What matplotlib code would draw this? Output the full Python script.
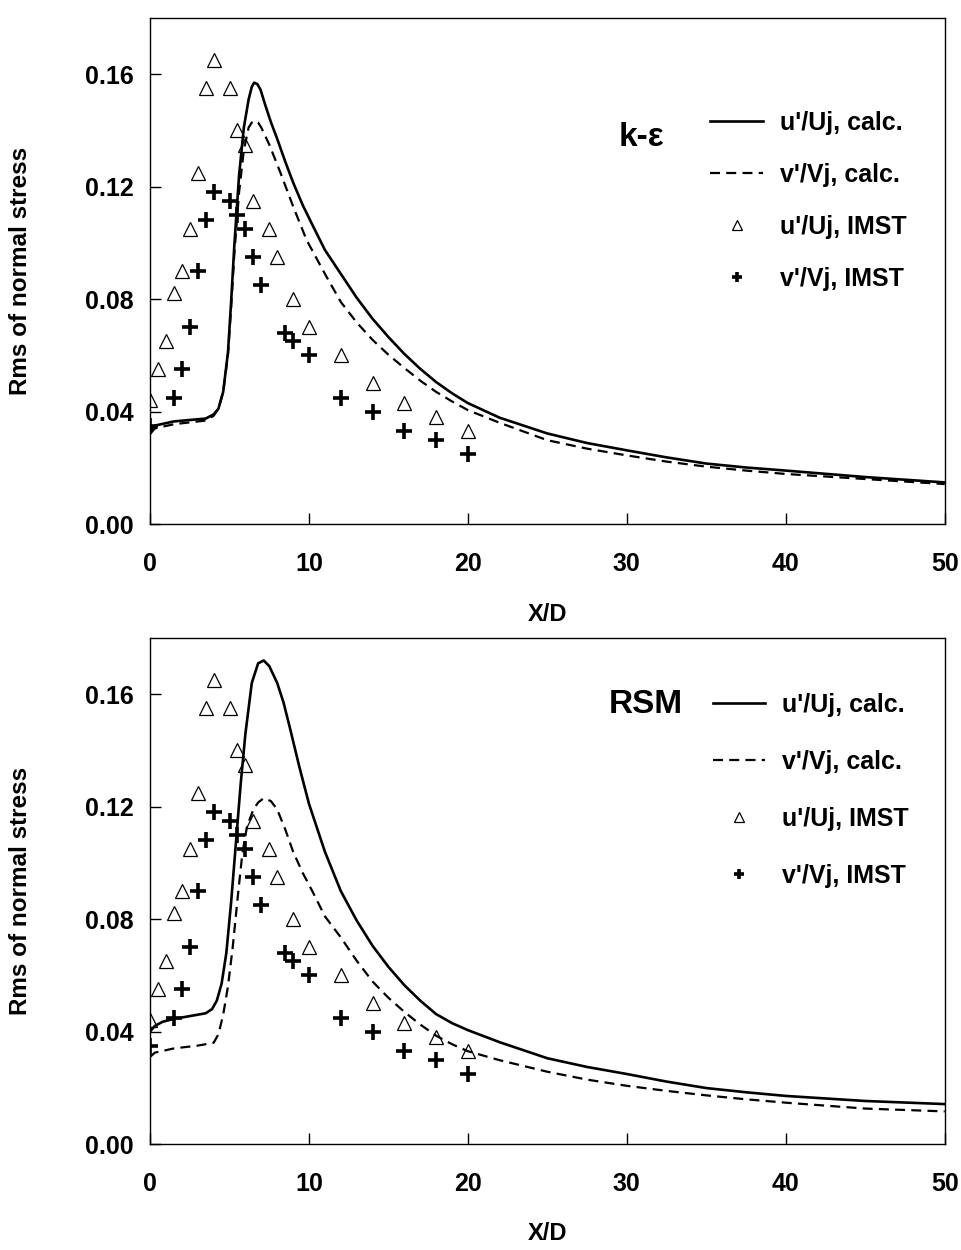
import numpy as np
import matplotlib
matplotlib.use('Agg')
import matplotlib.pyplot as plt
from matplotlib.ticker import FormatStrFormatter

plt.rcParams['font.family'] = ['Liberation Sans', 'DejaVu Sans']
plt.rcParams['font.weight'] = 'bold'

# IMST measurements (same data in both panels)
x_u_meas = [0, 0.5, 1, 1.5, 2, 2.5, 3, 3.5, 4, 5, 5.5, 6, 6.5, 7.5, 8, 9, 10, 12, 14, 16, 18, 20]
u_meas = [0.044, 0.055, 0.065, 0.082, 0.090, 0.105, 0.125, 0.155, 0.165, 0.155, 0.140, 0.135,
          0.115, 0.105, 0.095, 0.080, 0.070, 0.060, 0.050, 0.043, 0.038, 0.033]
x_v_meas = [0, 1.5, 2, 2.5, 3, 3.5, 4, 5, 5.5, 6, 6.5, 7, 8.5, 9, 10, 12, 14, 16, 18, 20]
v_meas = [0.035, 0.045, 0.055, 0.070, 0.090, 0.108, 0.118, 0.115, 0.110, 0.105, 0.095, 0.085,
          0.068, 0.065, 0.060, 0.045, 0.040, 0.033, 0.030, 0.025]

# k-epsilon predictions
x_ke_u = [0, 0.3, 1.5, 3.5, 4.0, 4.3, 4.6, 4.9, 5.1, 5.3, 5.6, 5.9, 6.2, 6.4, 6.55, 6.75,
          6.95, 7.25, 7.6, 8, 8.5, 9, 9.6, 10.25, 11, 12, 13, 14, 15, 16, 17, 18, 19, 20,
          22, 25, 27.5, 30, 32.5, 35, 37.5, 40, 45, 50]
ke_u = [0.033, 0.035, 0.0365, 0.0375, 0.039, 0.041, 0.047, 0.061, 0.079, 0.099, 0.124, 0.141,
        0.151, 0.1555, 0.157, 0.1565, 0.1545, 0.149, 0.143, 0.137, 0.129, 0.1215, 0.1135, 0.106,
        0.0975, 0.089, 0.0805, 0.073, 0.0665, 0.0605, 0.0552, 0.0505, 0.0465, 0.0430,
        0.0378, 0.0322, 0.0288, 0.0262, 0.0237, 0.0215, 0.0201, 0.0190, 0.0167, 0.0148]
x_ke_v = [0, 0.3, 1.5, 3.5, 4.0, 4.3, 4.6, 4.9, 5.1, 5.3, 5.6, 5.9, 6.2, 6.4, 6.6, 6.8, 7.0,
          7.5, 8.2, 9, 9.85, 11, 12, 13, 14, 15, 16, 17, 18, 19, 20, 22, 25, 27.5, 30, 32.5,
          35, 37.5, 40, 45, 50]
ke_v = [0.032, 0.034, 0.0355, 0.0368, 0.0385, 0.041, 0.047, 0.060, 0.077, 0.096, 0.118, 0.133,
        0.141, 0.1428, 0.1435, 0.1428, 0.141, 0.135, 0.125, 0.113, 0.101, 0.089, 0.079,
        0.0717, 0.0655, 0.0602, 0.0555, 0.0510, 0.047, 0.0436, 0.0405, 0.036, 0.0298, 0.0268,
        0.0244, 0.0222, 0.0204, 0.0190, 0.0178, 0.0160, 0.0142]

# Reynolds stress model predictions
x_rsm_u = [0, 0.3, 0.8, 1.5, 2.5, 3.5, 3.9, 4.2, 4.5, 4.8, 5.1, 5.4, 5.7, 6.0, 6.4, 6.8, 7.15,
           7.5, 8.0, 8.4, 8.8, 9.4, 10, 11, 12, 13, 14, 15, 16, 17, 18, 19, 20, 22, 25, 27.5,
           30, 32.5, 35, 37.5, 40, 45, 50]
rsm_u = [0.040, 0.042, 0.0435, 0.0445, 0.0455, 0.0465, 0.048, 0.051, 0.057, 0.068, 0.086, 0.107,
         0.128, 0.146, 0.164, 0.171, 0.172, 0.170, 0.164, 0.157, 0.148, 0.134, 0.121, 0.104,
         0.090, 0.0795, 0.0705, 0.063, 0.0565, 0.051, 0.0462, 0.0430, 0.0405, 0.0362, 0.0305,
         0.0274, 0.0249, 0.0222, 0.0199, 0.0184, 0.0171, 0.0153, 0.0142]
x_rsm_v = [0, 0.3, 1.5, 3.0, 4.0, 4.3, 4.6, 4.9, 5.2, 5.5, 5.8, 6.1, 6.5, 6.8, 7.15, 7.6, 8.0,
           8.5, 9.0, 9.6, 10.25, 11, 12, 13, 14, 15, 16, 17, 18, 19, 20, 22, 25, 27.5, 30,
           32.5, 35, 37.5, 40, 45, 50]
rsm_v = [0.031, 0.0325, 0.034, 0.035, 0.036, 0.039, 0.046, 0.056, 0.070, 0.087, 0.103, 0.113,
         0.119, 0.1215, 0.123, 0.122, 0.119, 0.112, 0.104, 0.0965, 0.0895, 0.081, 0.0735,
         0.0652, 0.0578, 0.052, 0.047, 0.0425, 0.0385, 0.0355, 0.0330, 0.0298, 0.0257, 0.0229,
         0.0207, 0.0189, 0.0173, 0.0159, 0.0147, 0.0126, 0.0116]

fig = plt.figure(figsize=(9.62, 12.5), dpi=100)
ax1 = fig.add_axes([0.156, 0.5808, 0.826, 0.4048])
ax2 = fig.add_axes([0.156, 0.0848, 0.826, 0.4048])


def draw(ax, xu, u, xv, v, model, model_pos, leg_anchor, leg_spacing, xlab_y):
    ax.plot(xu, u, color='k', lw=1.9, label="u'/Uj, calc.")
    ax.plot(xv, v, color='k', lw=1.6, ls=(0, (4.5, 2.8)), label="v'/Vj, calc.")
    ax.plot(x_u_meas, u_meas, ls='none', marker='^', ms=10, mfc='none', mec='k', mew=0.9,
            label="u'/Uj, IMST")
    ax.plot(x_v_meas, v_meas, ls='none', marker='+', ms=11, mec='k', mew=2.6,
            label="v'/Vj, IMST")

    ax.set_xlim(0, 50)
    ax.set_ylim(0, 0.18)
    ax.set_xticks([0, 10, 20, 30, 40, 50])
    ax.set_yticks([0.0, 0.04, 0.08, 0.12, 0.16])
    ax.yaxis.set_major_formatter(FormatStrFormatter('%.2f'))
    ax.tick_params(direction='in', length=8, width=1, labelsize=18, top=False, right=False)
    ax.tick_params(axis='x', pad=20)
    ax.tick_params(axis='y', pad=12)
    for sp in ax.spines.values():
        sp.set_linewidth(1.0)

    ax.set_xlabel('X/D', fontsize=17, fontweight='bold')
    ax.xaxis.set_label_coords(0.5, xlab_y)
    ax.set_ylabel('Rms of normal stress', fontsize=17.5, fontweight='bold')
    ax.yaxis.set_label_coords(-0.148, 0.5)

    ax.text(model_pos[0], model_pos[1], model, transform=ax.transAxes, fontsize=24,
            fontweight='bold', ha='center', va='center')
    ax.legend(loc='upper left', bbox_to_anchor=leg_anchor, frameon=False, fontsize=18,
              handlelength=2.1, handletextpad=0.68, labelspacing=leg_spacing, markerscale=0.7,
              borderpad=0, borderaxespad=0)


draw(ax1, x_ke_u, ke_u, x_ke_v, ke_v, 'k-ε', (0.618, 0.764), (0.705, 0.816), 1.12, -0.156)
draw(ax2, x_rsm_u, rsm_u, x_rsm_v, rsm_v, 'RSM', (0.624, 0.868), (0.708, 0.891), 1.32, -0.154)

fig.savefig('out.png', dpi=100)
